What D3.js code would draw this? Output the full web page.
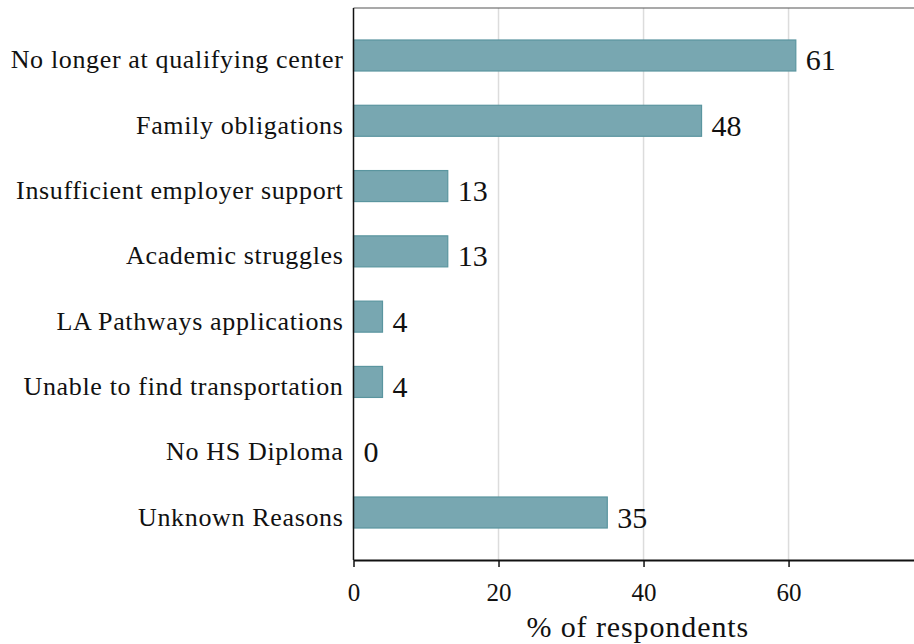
<!DOCTYPE html>
<html>
<head>
<meta charset="utf-8">
<script src="https://cdn.jsdelivr.net/npm/d3@7"></script>
<style>
  body { margin: 0; background: #fff; }
  svg text { font-family: "Liberation Serif", "DejaVu Serif", serif; fill: #111; }
</style>
</head>
<body>
<div id="chart"></div>
<script>
const reasons = [
    "No longer at qualifying center",
    "Family obligations",
    "Insufficient employer support",
    "Academic struggles",
    "LA Pathways applications",
    "Unable to find transportation",
    "No HS Diploma",
    "Unknown Reasons"
];
const percents = [61, 48, 13, 13, 4, 4, 0, 35];
const xTicks = [0, 20, 40, 60];

const size = { width: 914, height: 644 };
const margin = { top: 8, right: 0, bottom: 84, left: 353.5 };

const svg = d3.select("#chart")
    .append("svg")
    .attr("width", size.width)
    .attr("height", size.height);

const x = d3.scaleLinear()
    .domain([0, 77.3])
    .range([margin.left, size.width - margin.right]);

const y = d3.scaleBand()
    .domain(reasons)
    .range([margin.top, size.height - margin.bottom])
    .paddingInner(0.525)
    .paddingOuter(0.49);

const plotBottom = size.height - margin.bottom;

// grid lines
svg.append("g")
    .selectAll("line")
    .data(xTicks.filter(d => d > 0))
    .join("line")
    .attr("x1", d => x(d))
    .attr("x2", d => x(d))
    .attr("y1", margin.top)
    .attr("y2", plotBottom)
    .attr("stroke", "#dcdcdc")
    .attr("stroke-width", 1.5);

// top border
svg.append("line")
    .attr("x1", margin.left)
    .attr("x2", size.width)
    .attr("y1", margin.top)
    .attr("y2", margin.top)
    .attr("stroke", "#555")
    .attr("stroke-width", 1.2);

// bars
svg.append("g")
    .selectAll("rect")
    .data(reasons)
    .join("rect")
    .attr("x", x(0))
    .attr("y", d => y(d))
    .attr("width", (d, i) => x(percents[i]) - x(0))
    .attr("height", y.bandwidth())
    .attr("fill", "#78a7b1")
    .attr("stroke", "#5a959f")
    .attr("stroke-width", 1.2);

// value labels
svg.append("g")
    .selectAll("text")
    .data(reasons)
    .join("text")
    .attr("x", (d, i) => x(percents[i]) + 10)
    .attr("y", d => y(d) + y.bandwidth() / 2 + 15)
    .attr("font-size", 30)
    .text((d, i) => percents[i]);

// category labels
svg.append("g")
    .selectAll("text")
    .data(reasons)
    .join("text")
    .attr("x", margin.left - 10)
    .attr("y", d => y(d) + y.bandwidth() / 2 + 13)
    .attr("text-anchor", "end")
    .attr("font-size", 26)
    .attr("letter-spacing", 0.65)
    .text(d => d);

// x axis
const xAxis = svg.append("g")
    .attr("transform", `translate(0,${plotBottom})`)
    .call(d3.axisBottom(x).tickValues(xTicks).tickSize(7).tickPadding(16).tickSizeOuter(0))
    .attr("font-size", 25)
    .attr("font-family", "Liberation Serif, DejaVu Serif, serif");
xAxis.select(".domain").attr("stroke", "#111").attr("stroke-width", 2);
xAxis.selectAll(".tick line").attr("stroke", "#111").attr("stroke-width", 1.5);
xAxis.selectAll(".tick text").attr("fill", "#111");

// y axis line
svg.append("line")
    .attr("x1", margin.left)
    .attr("x2", margin.left)
    .attr("y1", margin.top)
    .attr("y2", plotBottom)
    .attr("stroke", "#111")
    .attr("stroke-width", 1.5);

// axis title
svg.append("text")
    .attr("x", (margin.left + size.width) / 2 + 4)
    .attr("y", 637)
    .attr("text-anchor", "middle")
    .attr("font-size", 30)
    .attr("letter-spacing", 0.9)
    .text("% of respondents");
</script>
</body>
</html>
